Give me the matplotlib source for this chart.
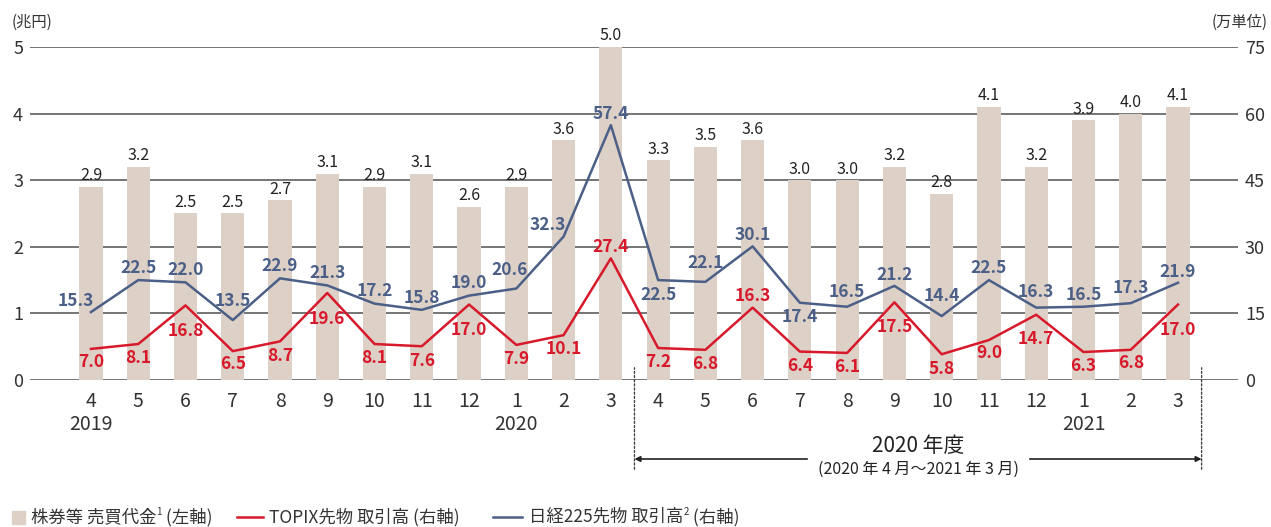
import matplotlib.pyplot as plt
from matplotlib.lines import Line2D
from matplotlib.patches import Rectangle

months = ["4", "5", "6", "7", "8", "9", "10", "11", "12", "1", "2", "3",
          "4", "5", "6", "7", "8", "9", "10", "11", "12", "1", "2", "3"]
years = {0: "2019", 9: "2020", 21: "2021"}
stock_value = [2.9, 3.2, 2.5, 2.5, 2.7, 3.1, 2.9, 3.1, 2.6, 2.9, 3.6, 5.0,
               3.3, 3.5, 3.6, 3.0, 3.0, 3.2, 2.8, 4.1, 3.2, 3.9, 4.0, 4.1]
topix = [7.0, 8.1, 16.8, 6.5, 8.7, 19.6, 8.1, 7.6, 17.0, 7.9, 10.1, 27.4,
         7.2, 6.8, 16.3, 6.4, 6.1, 17.5, 5.8, 9.0, 14.7, 6.3, 6.8, 17.0]
nikkei = [15.3, 22.5, 22.0, 13.5, 22.9, 21.3, 17.2, 15.8, 19.0, 20.6, 32.3, 57.4,
          22.5, 22.1, 30.1, 17.4, 16.5, 21.2, 14.4, 22.5, 16.3, 16.5, 17.3, 21.9]

# label offsets in pixels (dx, dy)
nk_off = [(-15, 11), (0, 12), (0, 12), (0, 19), (0, 12), (0, 12), (0, 13), (0, 12),
          (0, 13), (-7, 19), (-16, 12), (0, 11), (0, -15), (0, 19), (0, 11), (0, -14),
          (0, 15), (0, 11), (0, 20), (0, 12), (0, 16), (0, 12), (0, 15), (0, 11)]
tp_off = [(0, -13), (0, -14), (0, -26), (0, -13), (0, -15), (0, -26), (0, -14), (0, -15),
          (0, -25), (0, -14), (0, -14), (0, 11), (0, -14), (0, -14), (0, 12), (0, -14),
          (0, -14), (0, -25), (0, -15), (0, -13), (0, -24), (0, -14), (0, -13), (0, -25)]

BAR = "#ddd1c7"
RED = "#d7192b"
BLUE = "#4b5f87"
GRID = "#5e5e5e"
TXT = "#333333"
FONT = ["Noto Sans CJK JP", "DejaVu Sans"]
plt.rcParams["font.family"] = FONT

W, H = 1271, 527
fig = plt.figure(figsize=(W / 100, H / 100), dpi=100)
ax = fig.add_axes([30 / W, 1 - 380 / H, (1238 - 30) / W, (380 - 47) / H])
ax2 = ax.twinx()

x = list(range(len(months)))
ax.bar(x, stock_value, width=0.49, color=BAR, zorder=2)
ax.set_ylim(0, 5)
ax.set_xlim(-1.29, 24.27)
ax2.set_ylim(0, 75)
for v in range(6):
    ax.axhline(v, color=GRID, lw=1.2, zorder=1)

ax2.plot(x, topix, color=RED, lw=1.8, zorder=3)
ax2.plot(x, nikkei, color=BLUE, lw=1.8, zorder=3)

for i, v in enumerate(stock_value):
    ax.annotate(f"{v:.1f}", (i, v), xytext=(0, 11), textcoords="offset pixels",
                ha="center", va="center", fontsize=11.5, color="#222222")
for i, v in enumerate(nikkei):
    ax2.annotate(f"{v:.1f}", (i, v), xytext=nk_off[i], textcoords="offset pixels",
                 ha="center", va="center", fontsize=12.5, color=BLUE, fontweight="bold")
for i, v in enumerate(topix):
    ax2.annotate(f"{v:.1f}", (i, v), xytext=tp_off[i], textcoords="offset pixels",
                 ha="center", va="center", fontsize=12.5, color=RED, fontweight="bold")

for a in (ax, ax2):
    for s in a.spines.values():
        s.set_visible(False)
    a.tick_params(length=0, labelsize=13, colors=TXT)
ax.set_yticks(range(6))
ax.tick_params(axis="y", pad=5)
ax2.set_yticks(range(0, 76, 15))
ax2.tick_params(axis="y", pad=5)
ax.set_xticks(x)
ax.set_xticklabels(months, fontsize=14)
ax.tick_params(axis="x", pad=8)

for i, y in years.items():
    ax.annotate(y, (i, 0), xycoords=("data", "axes fraction"), xytext=(0, -45),
                textcoords="offset pixels", ha="center", va="center",
                fontsize=14, color=TXT)

fig.text(12 / W, 1 - 22 / H, "(兆円)", ha="left", va="center", fontsize=11, color=TXT)
fig.text(1268 / W, 1 - 22 / H, "(万単位)", ha="right", va="center", fontsize=11, color=TXT)

# fiscal year bracket
for xd in (11.5, 23.5):
    ax.annotate("", xy=(xd, H - 365), xytext=(xd, H - 472),
                xycoords=("data", "figure pixels"), textcoords=("data", "figure pixels"),
                arrowprops=dict(arrowstyle="-", color="#444444", lw=1, linestyle=(0, (1.5, 1.5))))
ax.annotate("", xy=(11.5, H - 459), xytext=(23.5, H - 459),
            xycoords=("data", "figure pixels"), textcoords=("data", "figure pixels"),
            arrowprops=dict(arrowstyle="<|-|>", color="#222222", lw=1.2, mutation_scale=8,
                            shrinkA=0, shrinkB=0))
fig.patches.append(Rectangle((808 / W, 1 - 465 / H), 220 / W, 12 / H,
                             transform=fig.transFigure, color="white", zorder=5))
fig.text(918 / W, 1 - 446 / H, "2020 年度", ha="center", va="center", fontsize=15,
         color="#222222", zorder=6)
fig.text(918 / W, 1 - 469 / H, "(2020 年 4 月～2021 年 3 月)", ha="center", va="center",
         fontsize=11.5, color="#222222", zorder=6)

# legend
renderer = fig.canvas.get_renderer()


def text_run(x0, y, parts):
    # parts: (string, fontsize, raise in px)
    xp = x0
    for s, size, up in parts:
        t = fig.text(xp / W, (H - y + up) / H, s, ha="left", va="center",
                     fontsize=size, color=TXT)
        xp += t.get_window_extent(renderer).width
    return xp


ly = 517
fig.patches.append(Rectangle((12 / W, (H - ly - 6.5) / H), 13 / W, 13 / H,
                             transform=fig.transFigure, color=BAR))
text_run(31, ly, [("株券等 売買代金", 12.5, 0), ("1", 7, 5), (" (左軸)", 12.5, 0)])
fig.lines.append(Line2D([237 / W, 263 / W], [(H - ly) / H] * 2, transform=fig.transFigure,
                        color=RED, lw=1.8))
text_run(269, ly, [("TOPIX先物 取引高 (右軸)", 12.5, 0)])
fig.lines.append(Line2D([493 / W, 522 / W], [(H - ly) / H] * 2, transform=fig.transFigure,
                        color=BLUE, lw=1.8))
text_run(529, ly, [("日経225先物 取引高", 12.5, 0), ("2", 7, 5), (" (右軸)", 12.5, 0)])

plt.savefig("out.png", dpi=100)
